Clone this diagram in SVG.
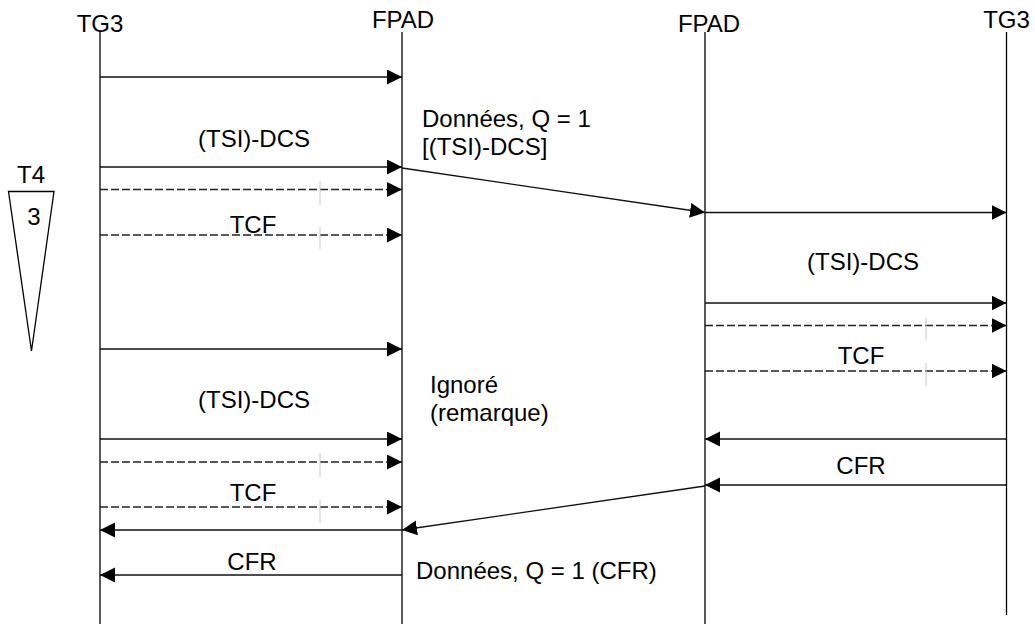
<svg xmlns="http://www.w3.org/2000/svg" width="1035" height="624" viewBox="0 0 1035 624">
<defs>
<marker id="ah" markerUnits="userSpaceOnUse" markerWidth="16" markerHeight="16" refX="15" refY="7.5" orient="auto">
<path d="M0,0 L15,7.5 L0,15 Z" fill="#000"/>
</marker>
<style>
text{font-family:"Liberation Sans",Arial,sans-serif;font-size:24px;fill:#000}
.c{text-anchor:middle}
.life{stroke:#000;stroke-width:1.3;fill:none}
.m{stroke:#111;stroke-width:1.3;fill:none;marker-end:url(#ah)}
.d{stroke:#222;stroke-width:1.3;fill:none;stroke-dasharray:8,3;marker-end:url(#ah)}
.tick{stroke:#c8c8c8;stroke-width:1;fill:none}
</style>
</defs>
<rect width="1035" height="624" fill="#fff"/>
<g id="tg3-left">
<line class="life" x1="100" y1="31" x2="100" y2="624"/>
<text class="c" x="100" y="32">TG3</text>
</g>
<g id="fpad-left">
<line class="life" x1="402" y1="32" x2="402" y2="624"/>
<text class="c" x="403" y="28">FPAD</text>
</g>
<g id="fpad-right">
<line class="life" x1="705" y1="32" x2="705" y2="624"/>
<text class="c" x="709" y="32">FPAD</text>
</g>
<g id="tg3-right">
<line class="life" x1="1006.5" y1="32" x2="1006.5" y2="615"/>
<text class="c" x="1006.5" y="28">TG3</text>
</g>
<g id="timer-t4">
<text class="c" x="31" y="183">T4</text>
<polygon points="8.5,191.5 54,191.5 31.5,351" fill="none" stroke="#000" stroke-width="1.3"/>
<text class="c" x="34" y="225">3</text>
</g>
<g id="connectors">
<line class="m" x1="100" y1="77" x2="402" y2="77"/>
<line class="m" x1="100" y1="167" x2="402" y2="167"/>
<line class="d" x1="100" y1="189.5" x2="402" y2="189.5"/>
<line class="d" x1="100" y1="235" x2="402" y2="235"/>
<line class="tick" x1="320" y1="182" x2="320" y2="205"/>
<line class="tick" x1="320" y1="227" x2="320" y2="249"/>
<line class="m" x1="402" y1="168" x2="705" y2="212.5"/>
<line class="m" x1="705" y1="212.5" x2="1006.5" y2="212.5"/>
<line class="m" x1="705" y1="303" x2="1006.5" y2="303"/>
<line class="d" x1="705" y1="325.5" x2="1006.5" y2="325.5"/>
<line class="d" x1="705" y1="371" x2="1006.5" y2="371"/>
<line class="tick" x1="926" y1="318" x2="926" y2="340"/>
<line class="tick" x1="926" y1="363" x2="926" y2="386"/>
<line class="m" x1="100" y1="349" x2="402" y2="349"/>
<line class="m" x1="100" y1="439" x2="402" y2="439"/>
<line class="d" x1="100" y1="462" x2="402" y2="462"/>
<line class="d" x1="100" y1="507" x2="402" y2="507"/>
<line class="tick" x1="320" y1="453" x2="320" y2="477"/>
<line class="tick" x1="320" y1="500" x2="320" y2="522"/>
<line class="m" x1="1006.5" y1="439" x2="705" y2="439"/>
<line class="m" x1="1006.5" y1="485" x2="705" y2="485"/>
<line class="m" x1="705" y1="486" x2="402" y2="530"/>
<line class="m" x1="402" y1="530" x2="100" y2="530"/>
<line class="m" x1="402" y1="575" x2="100" y2="575"/>
</g>
<g id="labels">
<text class="c" x="254" y="146.5">(TSI)-DCS</text>
<text class="c" x="253" y="233">TCF</text>
<text x="422" y="127">Données, Q = 1</text>
<text x="422" y="155">[(TSI)-DCS]</text>
<text class="c" x="863" y="270">(TSI)-DCS</text>
<text class="c" x="861" y="364">TCF</text>
<text class="c" x="254" y="408">(TSI)-DCS</text>
<text x="430" y="393">Ignoré</text>
<text x="430" y="421">(remarque)</text>
<text class="c" x="253" y="501">TCF</text>
<text class="c" x="861" y="474">CFR</text>
<text class="c" x="252" y="570">CFR</text>
<text x="416" y="579">Données, Q = 1 (CFR)</text>
</g>
</svg>
